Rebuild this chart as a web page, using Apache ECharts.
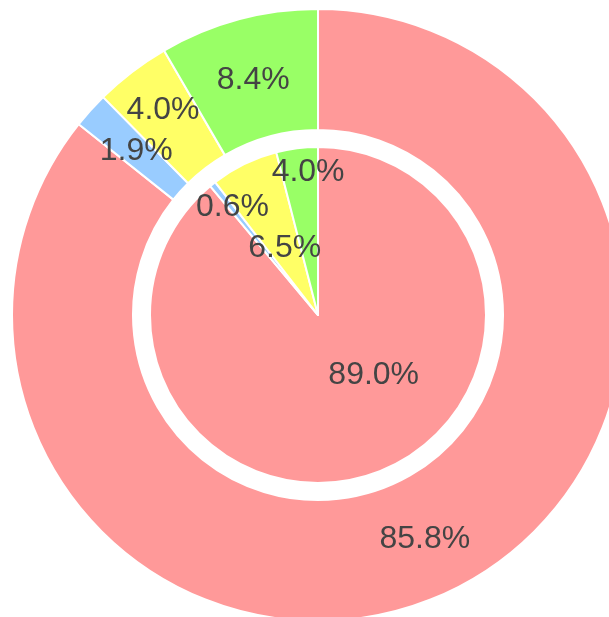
<!DOCTYPE html>
<html>
<head>
<meta charset="utf-8">
<script src="https://cdn.jsdelivr.net/npm/echarts@6/dist/echarts.min.js"></script>
<style>
html,body{margin:0;padding:0;background:#fff;}
#chart{width:609px;height:617px;}
</style>
</head>
<body>
<div id="chart"></div>
<script>
// Data (percent values)
var categories = ['A', 'B', 'C', 'D'];
var innerValues = [89.0, 0.6, 6.5, 4.0];
var outerValues = [85.8, 1.9, 4.0, 8.4];

// Styles
var sliceColors = ['#ff9999', '#99ccff', '#ffff66', '#99ff66'];
var innerNudge = [[26, -22], [-31, -40], [5, 11], [1, -57]];
var outerNudge = [[-1, 0], [3, 2], [-4, -7], [0, 5]];

function buildData(vals) {
  return categories.map(function (c, i) {
    return { name: c, value: vals[i], itemStyle: { color: sliceColors[i] } };
  });
}

var labelStyle = {
  show: true,
  position: 'inside',
  color: '#444444',
  fontSize: 32,
  fontFamily: 'Liberation Sans, Arial, sans-serif',
  formatter: function (p) { return p.value.toFixed(1) + '%'; }
};

var chart = echarts.init(document.getElementById('chart'), null, { renderer: 'canvas' });
chart.setOption({
  animation: false,
  backgroundColor: '#ffffff',
  series: [
    {
      type: 'pie',
      center: [318, 315],
      radius: [0, 168],
      startAngle: 90,
      clockwise: true,
      itemStyle: { borderColor: '#ffffff', borderWidth: 2 },
      label: labelStyle,
      labelLine: { show: false },
      emphasis: { disabled: true },
      labelLayout: function (p) {
        var n = innerNudge[p.dataIndex];
        return { dx: n[0], dy: n[1] };
      },
      data: buildData(innerValues)
    },
    {
      type: 'pie',
      center: [318, 315],
      radius: [185, 306],
      startAngle: 90,
      clockwise: true,
      itemStyle: { borderColor: '#ffffff', borderWidth: 2 },
      label: labelStyle,
      labelLine: { show: false },
      emphasis: { disabled: true },
      labelLayout: function (p) {
        var n = outerNudge[p.dataIndex];
        return { dx: n[0], dy: n[1] };
      },
      data: buildData(outerValues)
    }
  ]
});
</script>
</body>
</html>
